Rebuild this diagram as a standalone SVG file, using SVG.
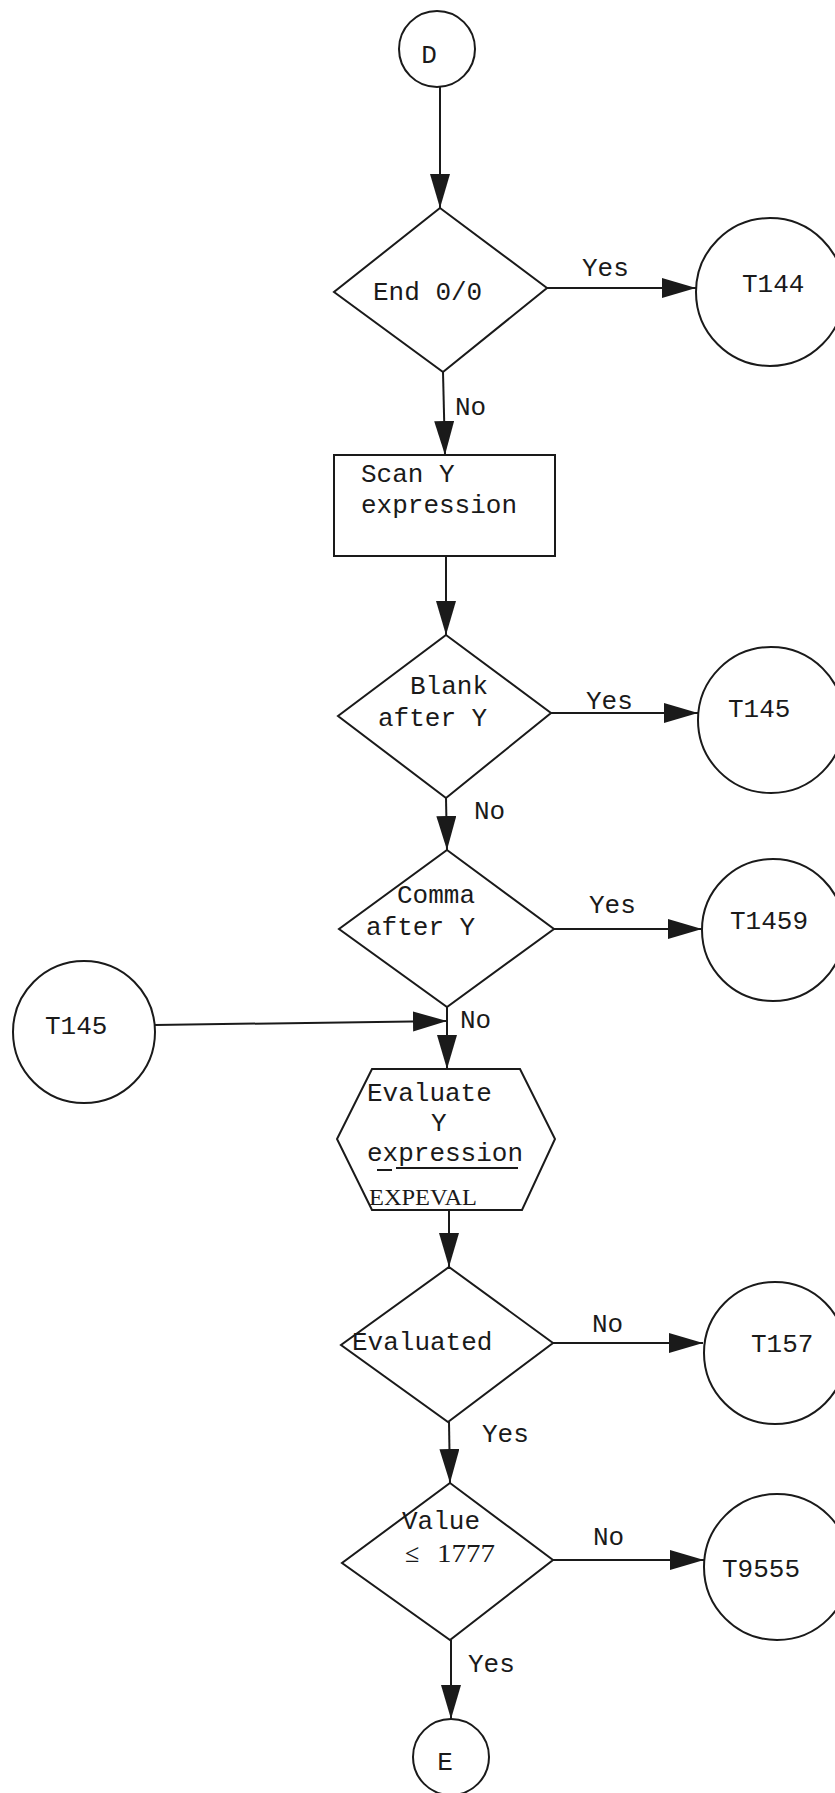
<svg xmlns="http://www.w3.org/2000/svg" width="835" height="1793" viewBox="0 0 835 1793">
<defs>
<style>
.s{fill:none;stroke:#1a1a1a;stroke-width:2}
.c{stroke:#1a1a1a;stroke-width:2;fill:none}
.t{font-family:"Liberation Mono","DejaVu Sans Mono",monospace;font-size:26px;fill:#1a1a1a}
.r{font-family:"Liberation Serif","DejaVu Serif",serif;fill:#1a1a1a}
.m{text-anchor:middle}
</style>
<marker id="ah" markerUnits="userSpaceOnUse" markerWidth="36" markerHeight="22" refX="34" refY="10" orient="auto">
<path d="M0,0 L34,10 L0,20 Z" fill="#1a1a1a"/>
</marker>
</defs>
<rect width="835" height="1793" fill="#ffffff"/>

<g id="connectors">
<line class="c" x1="440" y1="87" x2="440" y2="208" marker-end="url(#ah)"/>
<line class="c" x1="547" y1="288" x2="696" y2="288" marker-end="url(#ah)"/>
<line class="c" x1="443" y1="372" x2="445" y2="455" marker-end="url(#ah)"/>
<line class="c" x1="446" y1="556" x2="446" y2="635" marker-end="url(#ah)"/>
<line class="c" x1="551" y1="713" x2="698" y2="713" marker-end="url(#ah)"/>
<line class="c" x1="446" y1="798" x2="447" y2="850" marker-end="url(#ah)"/>
<line class="c" x1="554" y1="929" x2="702" y2="929" marker-end="url(#ah)"/>
<line class="c" x1="447" y1="1007" x2="447" y2="1069" marker-end="url(#ah)"/>
<line class="c" x1="155" y1="1025" x2="447" y2="1021" marker-end="url(#ah)"/>
<line class="c" x1="449" y1="1210" x2="449" y2="1267" marker-end="url(#ah)"/>
<line class="c" x1="553" y1="1343" x2="703" y2="1343" marker-end="url(#ah)"/>
<line class="c" x1="449" y1="1422" x2="450" y2="1483" marker-end="url(#ah)"/>
<line class="c" x1="553" y1="1560" x2="704" y2="1560" marker-end="url(#ah)"/>
<line class="c" x1="451" y1="1640" x2="451" y2="1719" marker-end="url(#ah)"/>
<text class="t" x="582" y="276">Yes</text>
<text class="t" x="455" y="415">No</text>
<text class="t" x="586" y="709">Yes</text>
<text class="t" x="474" y="819">No</text>
<text class="t" x="589" y="913">Yes</text>
<text class="t" x="460" y="1028">No</text>
<text class="t" x="592" y="1332">No</text>
<text class="t" x="482" y="1442">Yes</text>
<text class="t" x="593" y="1545">No</text>
<text class="t" x="468" y="1672">Yes</text>
</g>

<g id="D">
<circle class="s" cx="437" cy="49" r="38"/>
<text class="t m" x="429" y="63">D</text>
</g>

<g id="end00">
<polygon class="s" points="440,208 547,288 443,372 334,292"/>
<text class="t" x="373" y="300">End 0/0</text>
</g>

<g id="T144">
<circle class="s" cx="770" cy="292" r="74"/>
<text class="t" x="742" y="292">T144</text>
</g>

<g id="scanY">
<rect class="s" x="334" y="455" width="221" height="101"/>
<text class="t" x="361" y="482">Scan Y</text>
<text class="t" x="361" y="513">expression</text>
</g>

<g id="blank">
<polygon class="s" points="446,635 551,713 446,798 338,716"/>
<text class="t" x="410" y="694">Blank</text>
<text class="t" x="378" y="726">after Y</text>
</g>

<g id="T145r">
<circle class="s" cx="771" cy="720" r="73"/>
<text class="t" x="728" y="717">T145</text>
</g>

<g id="comma">
<polygon class="s" points="447,850 554,929 447,1007 339,929"/>
<text class="t" x="397" y="903" textLength="78" lengthAdjust="spacingAndGlyphs">Comma</text>
<text class="t" x="366" y="935">after Y</text>
</g>

<g id="T1459">
<circle class="s" cx="773" cy="930" r="71"/>
<text class="t" x="730" y="929">T1459</text>
</g>

<g id="T145l">
<circle class="s" cx="84" cy="1032" r="71"/>
<text class="t" x="45" y="1034">T145</text>
</g>

<g id="evaluate">
<polygon class="s" points="372,1069 520,1069 555,1139 522,1210 372,1210 337,1139"/>
<text class="t" x="367" y="1101">Evaluate</text>
<text class="t" x="431" y="1131">Y</text>
<text class="t" x="367" y="1161">expression</text>
<line class="c" x1="377" y1="1170" x2="392" y2="1170"/>
<line class="c" x1="396" y1="1168" x2="518" y2="1168"/>
<text class="r" x="369" y="1205" font-size="24" textLength="108" lengthAdjust="spacingAndGlyphs">EXPEVAL</text>
</g>

<g id="evaluated">
<polygon class="s" points="449,1267 553,1343 448,1422 341,1345"/>
<text class="t" x="352" y="1350">Evaluated</text>
</g>

<g id="T157">
<circle class="s" cx="775" cy="1353" r="71"/>
<text class="t" x="751" y="1352">T157</text>
</g>

<g id="value">
<polygon class="s" points="450,1483 553,1560 450,1640 342,1563"/>
<text class="t" x="402" y="1529">Value</text>
<text class="r" x="405" y="1562" font-size="26">≤</text>
<text class="r" x="437" y="1562" font-size="26" textLength="58" lengthAdjust="spacingAndGlyphs">1777</text>
</g>

<g id="T9555">
<circle class="s" cx="777" cy="1567" r="73"/>
<text class="t" x="722" y="1577">T9555</text>
</g>

<g id="E">
<circle class="s" cx="451" cy="1757" r="38"/>
<text class="t m" x="445" y="1770">E</text>
</g>
</svg>
